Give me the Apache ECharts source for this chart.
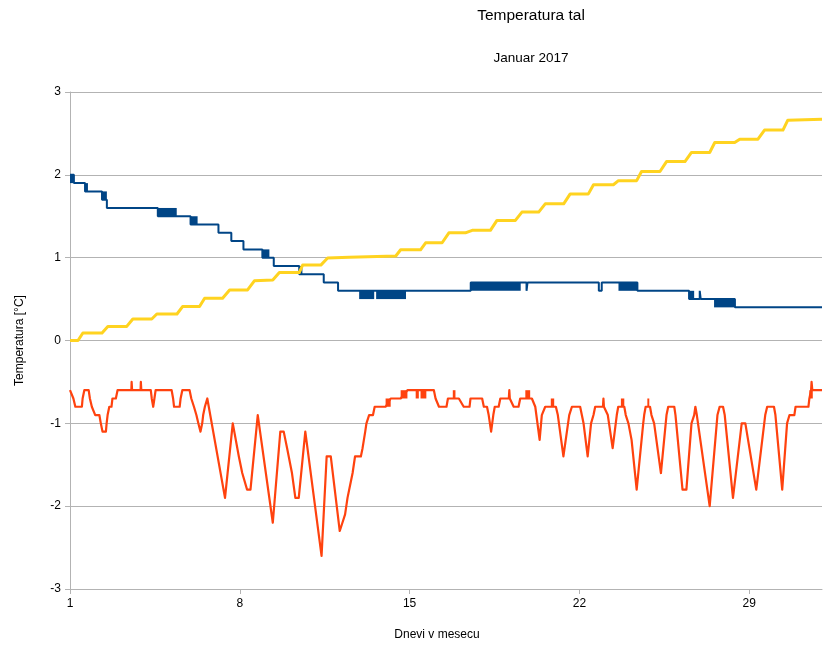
<!DOCTYPE html>
<html><head><meta charset="utf-8">
<script src="https://cdn.jsdelivr.net/npm/echarts@6/dist/echarts.min.js"></script>
<style>html,body{margin:0;padding:0;background:#fff}#c{width:823px;height:646px}</style>
</head><body><div id="c"></div>
<script>
// ---- data ----
const titleText = 'Temperatura tal';
const subtitleText = 'Januar 2017';
const xName = 'Dnevi v mesecu';
const yName = 'Temperatura [°C]';
const xTicks = [1, 8, 15, 22, 29];
const yTicks = [-3, -2, -1, 0, 1, 2, 3];

// blue: stepped series ([day, value] – value holds from day onward)
const blueSteps = [
  [1.0,2.0],[1.16,1.9],[1.62,1.8],[2.32,1.7],[2.52,1.6],[4.62,1.5],[5.97,1.4],
  [7.12,1.3],[7.65,1.2],[8.15,1.1],[8.93,1.0],[9.40,0.9],[10.45,0.8],[11.46,0.7],
  [12.05,0.6],[17.52,0.7],[19.82,0.6],[19.86,0.7],[22.80,0.6],[22.92,0.7],
  [24.39,0.6],[26.52,0.5],[26.96,0.6],[27.00,0.5],[28.41,0.4],[32.0,0.4]
];
// blue: flicker blocks [dayFrom, dayTo, low, high]
const blueBands = [
  [1.0,1.16,1.9,2.0],[1.62,1.74,1.8,1.9],[2.32,2.52,1.7,1.8],[4.62,5.40,1.5,1.6],
  [5.97,6.26,1.4,1.5],[8.93,9.22,1.0,1.1],[10.45,10.58,0.8,0.9],[12.92,13.54,0.5,0.6],
  [13.62,14.85,0.5,0.6],[17.52,19.58,0.6,0.7],[23.61,24.39,0.6,0.7],[26.52,26.73,0.5,0.6],
  [27.55,28.41,0.4,0.5]
];

// yellow: ramped steps
const yellowPoints = [
  [1.0,0.0],[1.33,0.0],[1.53,0.09],[2.32,0.09],[2.56,0.17],[3.34,0.17],[3.59,0.26],
  [4.37,0.26],[4.58,0.32],[5.41,0.32],[5.64,0.41],[6.34,0.41],[6.55,0.51],[7.29,0.51],
  [7.58,0.61],[8.32,0.61],[8.60,0.72],[9.36,0.73],[9.63,0.82],[10.45,0.82],[10.59,0.91],
  [11.34,0.91],[11.62,0.995],[12.51,1.005],[14.43,1.02],[14.63,1.095],[15.45,1.095],
  [15.66,1.18],[16.34,1.18],[16.62,1.30],[17.30,1.30],[17.58,1.33],[18.33,1.33],
  [18.60,1.45],[19.36,1.45],[19.63,1.55],[20.32,1.55],[20.59,1.65],[21.35,1.65],
  [21.62,1.77],[22.37,1.77],[22.58,1.88],[23.40,1.88],[23.61,1.93],[24.36,1.93],
  [24.56,2.04],[25.32,2.04],[25.59,2.16],[26.35,2.16],[26.62,2.27],[27.37,2.27],
  [27.58,2.39],[28.40,2.39],[28.61,2.43],[29.36,2.43],[29.63,2.54],[30.39,2.54],
  [30.59,2.66],[32.0,2.67]
];

// orange: oscillating series
const orangePoints = [
  [1.0,-0.6],[1.04,-0.6],[1.14,-0.7],[1.22,-0.8],[1.49,-0.8],[1.52,-0.7],[1.59,-0.6],
  [1.77,-0.6],[1.82,-0.7],[1.90,-0.8],[2.04,-0.9],[2.21,-0.9],[2.27,-1.0],[2.34,-1.1],
  [2.48,-1.1],[2.51,-1.0],[2.55,-0.9],[2.62,-0.8],[2.71,-0.8],[2.75,-0.7],[2.89,-0.7],
  [2.96,-0.6],[3.53,-0.6],[3.54,-0.5],[3.56,-0.6],[3.91,-0.6],[3.92,-0.5],[3.94,-0.6],
  [4.33,-0.6],[4.37,-0.7],[4.43,-0.8],[4.48,-0.7],[4.53,-0.6],[5.19,-0.6],[5.25,-0.7],
  [5.29,-0.8],[5.52,-0.8],[5.56,-0.7],[5.63,-0.6],[5.93,-0.6],[6.00,-0.7],[6.11,-0.8],
  [6.21,-0.9],[6.29,-1.0],[6.38,-1.1],[6.45,-1.0],[6.49,-0.9],[6.56,-0.8],[6.66,-0.7],
  [6.72,-0.7],[7.39,-1.9],[7.71,-1.0],[7.74,-1.0],[7.96,-1.4],[8.10,-1.6],[8.30,-1.8],
  [8.44,-1.8],[8.74,-0.9],[9.36,-2.2],[9.67,-1.1],[9.81,-1.1],[9.95,-1.3],[10.15,-1.6],
  [10.29,-1.9],[10.43,-1.9],[10.70,-1.1],[11.37,-2.6],[11.58,-1.4],[11.75,-1.4],
  [12.12,-2.3],[12.23,-2.2],[12.34,-2.1],[12.44,-1.9],[12.58,-1.7],[12.65,-1.6],
  [12.75,-1.4],[12.99,-1.4],[13.06,-1.3],[13.17,-1.1],[13.22,-1.0],[13.33,-0.9],
  [13.49,-0.9],[13.56,-0.8],[14.01,-0.8],[14.22,-0.7],[14.63,-0.7],[14.91,-0.6],
  [16.00,-0.6],[16.07,-0.7],[16.21,-0.8],[16.52,-0.8],[16.58,-0.7],[17.03,-0.7],
  [17.23,-0.8],[17.47,-0.8],[17.51,-0.7],[17.99,-0.7],[18.06,-0.8],[18.19,-0.8],
  [18.26,-0.9],[18.36,-1.1],[18.45,-0.9],[18.51,-0.8],[18.67,-0.8],[18.74,-0.7],
  [19.09,-0.7],[19.11,-0.6],[19.13,-0.7],[19.19,-0.7],[19.29,-0.8],[19.49,-0.8],
  [19.56,-0.7],[20.04,-0.7],[20.18,-0.8],[20.36,-1.2],[20.45,-0.9],[20.59,-0.8],
  [21.03,-0.8],[21.11,-0.9],[21.34,-1.4],[21.58,-0.9],[21.69,-0.8],[22.03,-0.8],
  [22.10,-0.9],[22.17,-1.0],[22.34,-1.4],[22.48,-1.0],[22.58,-0.9],[22.65,-0.8],
  [22.97,-0.8],[22.99,-0.7],[23.01,-0.8],[23.06,-0.8],[23.17,-0.9],[23.22,-1.0],
  [23.37,-1.3],[23.54,-0.9],[23.60,-0.8],[23.85,-0.8],[23.91,-0.9],[24.02,-1.0],
  [24.15,-1.2],[24.36,-1.8],[24.63,-1.0],[24.67,-0.9],[24.73,-0.8],[24.91,-0.8],
  [24.97,-0.9],[25.08,-1.0],[25.36,-1.6],[25.59,-0.9],[25.66,-0.8],[25.91,-0.8],
  [25.96,-0.9],[26.25,-1.8],[26.41,-1.8],[26.62,-1.0],[26.73,-0.9],[26.78,-0.8],
  [26.84,-0.9],[27.37,-2.0],[27.69,-0.9],[27.78,-0.8],[27.92,-0.8],[27.99,-0.9],
  [28.33,-1.9],[28.69,-1.0],[28.84,-1.0],[29.29,-1.8],[29.66,-0.9],[29.74,-0.8],
  [30.02,-0.8],[30.08,-0.9],[30.36,-1.8],[30.56,-1.0],[30.66,-0.9],[30.86,-0.9],
  [30.91,-0.8],[31.44,-0.8],[31.48,-0.7],[31.55,-0.6],[31.57,-0.5],[31.60,-0.6],
  [32.0,-0.6]
];
const orangeBands = [
  [14.01,14.22,-0.8,-0.7],[14.63,14.91,-0.7,-0.6],[15.25,15.38,-0.7,-0.6],
  [15.45,15.69,-0.7,-0.6],[16.78,16.89,-0.7,-0.6],[19.77,19.97,-0.7,-0.6],
  [20.82,20.96,-0.8,-0.7],[23.71,23.85,-0.8,-0.7],[24.80,24.88,-0.8,-0.7],
  [31.48,31.62,-0.7,-0.6]
];

// ---- chart ----
const BLUE = '#004586', ORANGE = '#ff420e', YELLOW = '#ffd320';
const FONT = '"Liberation Sans", Arial, sans-serif';
const bands = (arr) => arr.map(b => [{xAxis: b[0], yAxis: b[2]}, {xAxis: b[1], yAxis: b[3]}]);

const chart = echarts.init(document.getElementById('c'), null, {renderer: 'canvas'});
chart.setOption({
  backgroundColor: '#fff',
  animation: false,
  textStyle: {fontFamily: FONT},
  grid: {left: 70, right: 1, top: 92, bottom: 57, containLabel: false},
  graphic: [
    {type: 'text', x: 531, y: 16, style: {text: titleText, fontSize: 15.5, fontFamily: FONT, fill: '#000', textAlign: 'center', textVerticalAlign: 'middle'}},
    {type: 'text', x: 531, y: 58, style: {text: subtitleText, fontSize: 13.5, fontFamily: FONT, fill: '#000', textAlign: 'center', textVerticalAlign: 'middle'}}
  ],
  xAxis: {
    type: 'value', min: 1, max: 32, interval: 7,
    name: xName, nameLocation: 'middle', nameGap: 40,
    nameTextStyle: {fontSize: 12, color: '#000', fontFamily: FONT, padding: [0, 18, 0, 0]},
    axisLine: {onZero: false, lineStyle: {color: '#b3b3b3', width: 1}},
    axisTick: {show: true, length: 5, inside: false, customValues: xTicks, lineStyle: {color: '#b3b3b3'}},
    axisLabel: {customValues: xTicks, fontSize: 12, color: '#000', margin: 9, fontFamily: FONT},
    splitLine: {show: false}
  },
  yAxis: {
    type: 'value', min: yTicks[0], max: yTicks[yTicks.length - 1], interval: 1,
    name: yName, nameLocation: 'middle', nameGap: 44, nameRotate: 90,
    nameTextStyle: {fontSize: 12, color: '#000', fontFamily: FONT},
    axisLine: {show: true, onZero: false, lineStyle: {color: '#b3b3b3', width: 1}},
    axisTick: {show: true, length: 5, lineStyle: {color: '#b3b3b3'}},
    axisLabel: {fontSize: 12, color: '#000', margin: 9, fontFamily: FONT},
    splitLine: {show: true, lineStyle: {color: '#b3b3b3', width: 1}}
  },
  series: [
    {
      name: 'Tal A', type: 'line', step: 'end', data: blueSteps, showSymbol: false, symbol: 'none',
      lineStyle: {color: BLUE, width: 2}, itemStyle: {color: BLUE},
      markArea: {silent: true, itemStyle: {color: BLUE, opacity: 1}, data: bands(blueBands)}
    },
    {
      name: 'Tal B', type: 'line', data: orangePoints, showSymbol: false, symbol: 'none',
      lineStyle: {color: ORANGE, width: 2.2, join: 'round'}, itemStyle: {color: ORANGE},
      markArea: {silent: true, itemStyle: {color: ORANGE, opacity: 1}, data: bands(orangeBands)}
    },
    {
      name: 'Tal C', type: 'line', data: yellowPoints, showSymbol: false, symbol: 'none',
      lineStyle: {color: YELLOW, width: 3, join: 'round'}, itemStyle: {color: YELLOW}
    }
  ]
});
</script>
</body></html>
